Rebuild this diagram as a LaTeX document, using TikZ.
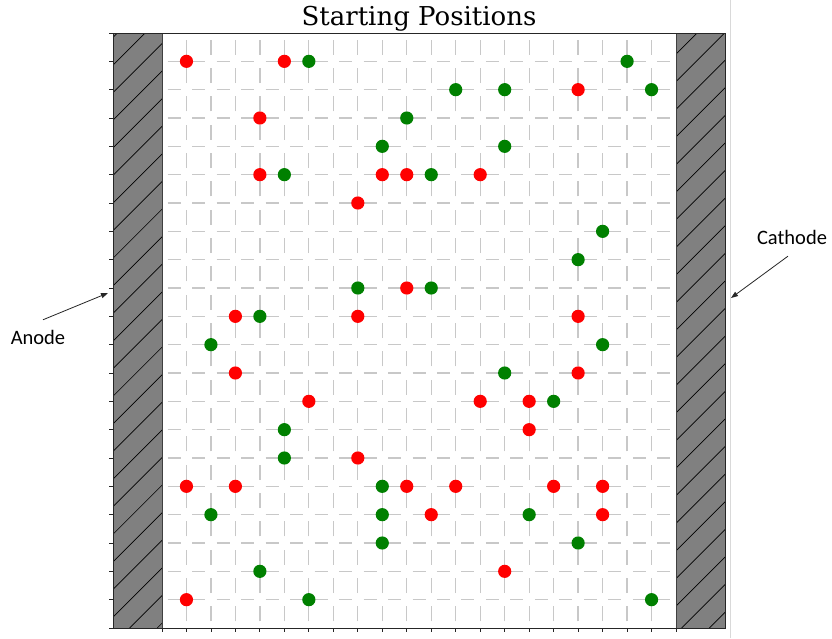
\documentclass[tikz,border=0pt]{standalone}
\usepackage{fontspec}
\usetikzlibrary{arrows.meta}
\newfontfamily\titlefont{DejaVu Serif}
\newfontfamily\labelfont{Carlito}
\definecolor{gridgray}{HTML}{C8C8C8}
\definecolor{bargray}{HTML}{808080}
\definecolor{dotred}{HTML}{FF0000}
\definecolor{dotgreen}{HTML}{008000}
\definecolor{edgegray}{HTML}{D9D9D9}
\tikzset{
  gridv/.style={gridgray, line width=1.3pt, dash pattern=on 15pt off 13.333pt, dash phase=21.667pt},
  gridh/.style={gridgray, line width=1.3pt, dash pattern=on 13pt off 11.48pt, dash phase=18.74pt},
  hatchline/.style={black, line width=0.7pt},
  barbox/.style={draw=black!75, line width=0.8pt},
  spine/.style={black!85, line width=0.9pt},
  tick/.style={black!85, line width=0.8pt},
  reddot/.style={fill=dotred},
  greendot/.style={fill=dotgreen},
  callout/.style={font=\labelfont\fontsize{20.5}{24}\selectfont, inner sep=0pt},
  arr/.style={black!85, line width=0.8pt, -{Triangle[length=7pt,width=5pt]}}
}
\begin{document}
\begin{tikzpicture}[x=1pt,y=1pt]
\useasboundingbox (0,0) rectangle (832,638);
\fill[white] (0,0) rectangle (832,638);
% faint border line at right
\draw[edgegray, line width=1pt] (730,0) -- (730,638);
% data frame
\begin{scope}[shift={(113,10)}, x=24.48pt, y=28.333pt]
  % grid
  \foreach \i in {3,...,22} \draw[gridv] (\i,0) -- (\i,21);
  \foreach \j in {1,...,20} \draw[gridh] (2,\j) -- (23,\j);
  % hatched bars
  \fill[bargray] (0,0) rectangle (2,21);
  \fill[bargray] (23,0) rectangle (25,21);
  \begin{scope}
    \clip (0,0) rectangle (2,21);
    \foreach \k in {-23,...,1}
      \draw[hatchline] ([xshift=\k*27.6pt]0.68,0) -- ++(620pt,620pt);
  \end{scope}
  \begin{scope}
    \clip (23,0) rectangle (25,21);
    \foreach \k in {-23,...,1}
      \draw[hatchline] ([xshift=\k*27.6pt]23.232,0) -- ++(620pt,620pt);
  \end{scope}
  \draw[barbox] (0,0) rectangle (2,21);
  \draw[barbox] (23,0) rectangle (25,21);
  % spines
  \draw[spine] (0,0) rectangle (25,21);
  % ticks
  \foreach \i in {2,...,23} \draw[tick] (\i,0) -- ++(0,-4pt);
  \foreach \j in {0,...,21} \draw[tick] (0,\j) -- ++(-4pt,0);
  % particles
  \foreach \x/\y in {3/20,7/20,19/19,6/18,6/16,11/16,12/16,15/16,10/15,12/12,5/11,10/11,19/11,5/9,19/9,8/8,15/8,17/8,17/7,10/6,3/5,5/5,12/5,14/5,18/5,20/5,13/4,20/4,16/2,3/1}
    \fill[reddot] (\x,\y) circle[radius=6.6pt];
  \foreach \x/\y in {8/20,21/20,14/19,16/19,22/19,12/18,11/17,16/17,7/16,13/16,20/14,19/13,10/12,13/12,6/11,4/10,20/10,16/9,18/8,7/7,7/6,11/5,4/4,11/4,17/4,11/3,19/3,6/2,8/1,22/1}
    \fill[greendot] (\x,\y) circle[radius=6.6pt];
\end{scope}
% title
\node[font=\titlefont\fontsize{26}{30}\selectfont, anchor=base, inner sep=0pt] (title) at (419,612) {Starting Positions};
% labels and arrows
\node[callout, anchor=base, outer ysep=10pt] (anode) at (38,294) {Anode};
\node[callout, anchor=base, outer ysep=11pt] (cathode) at (792,393) {Cathode};
\coordinate (atip) at (108,345);
\coordinate (ctip) at (731,340);
\draw[arr] ([xshift=5pt]anode.north) -- (atip);
\draw[arr] ([xshift=-4pt]cathode.south) -- (ctip);
\end{tikzpicture}
\end{document}
